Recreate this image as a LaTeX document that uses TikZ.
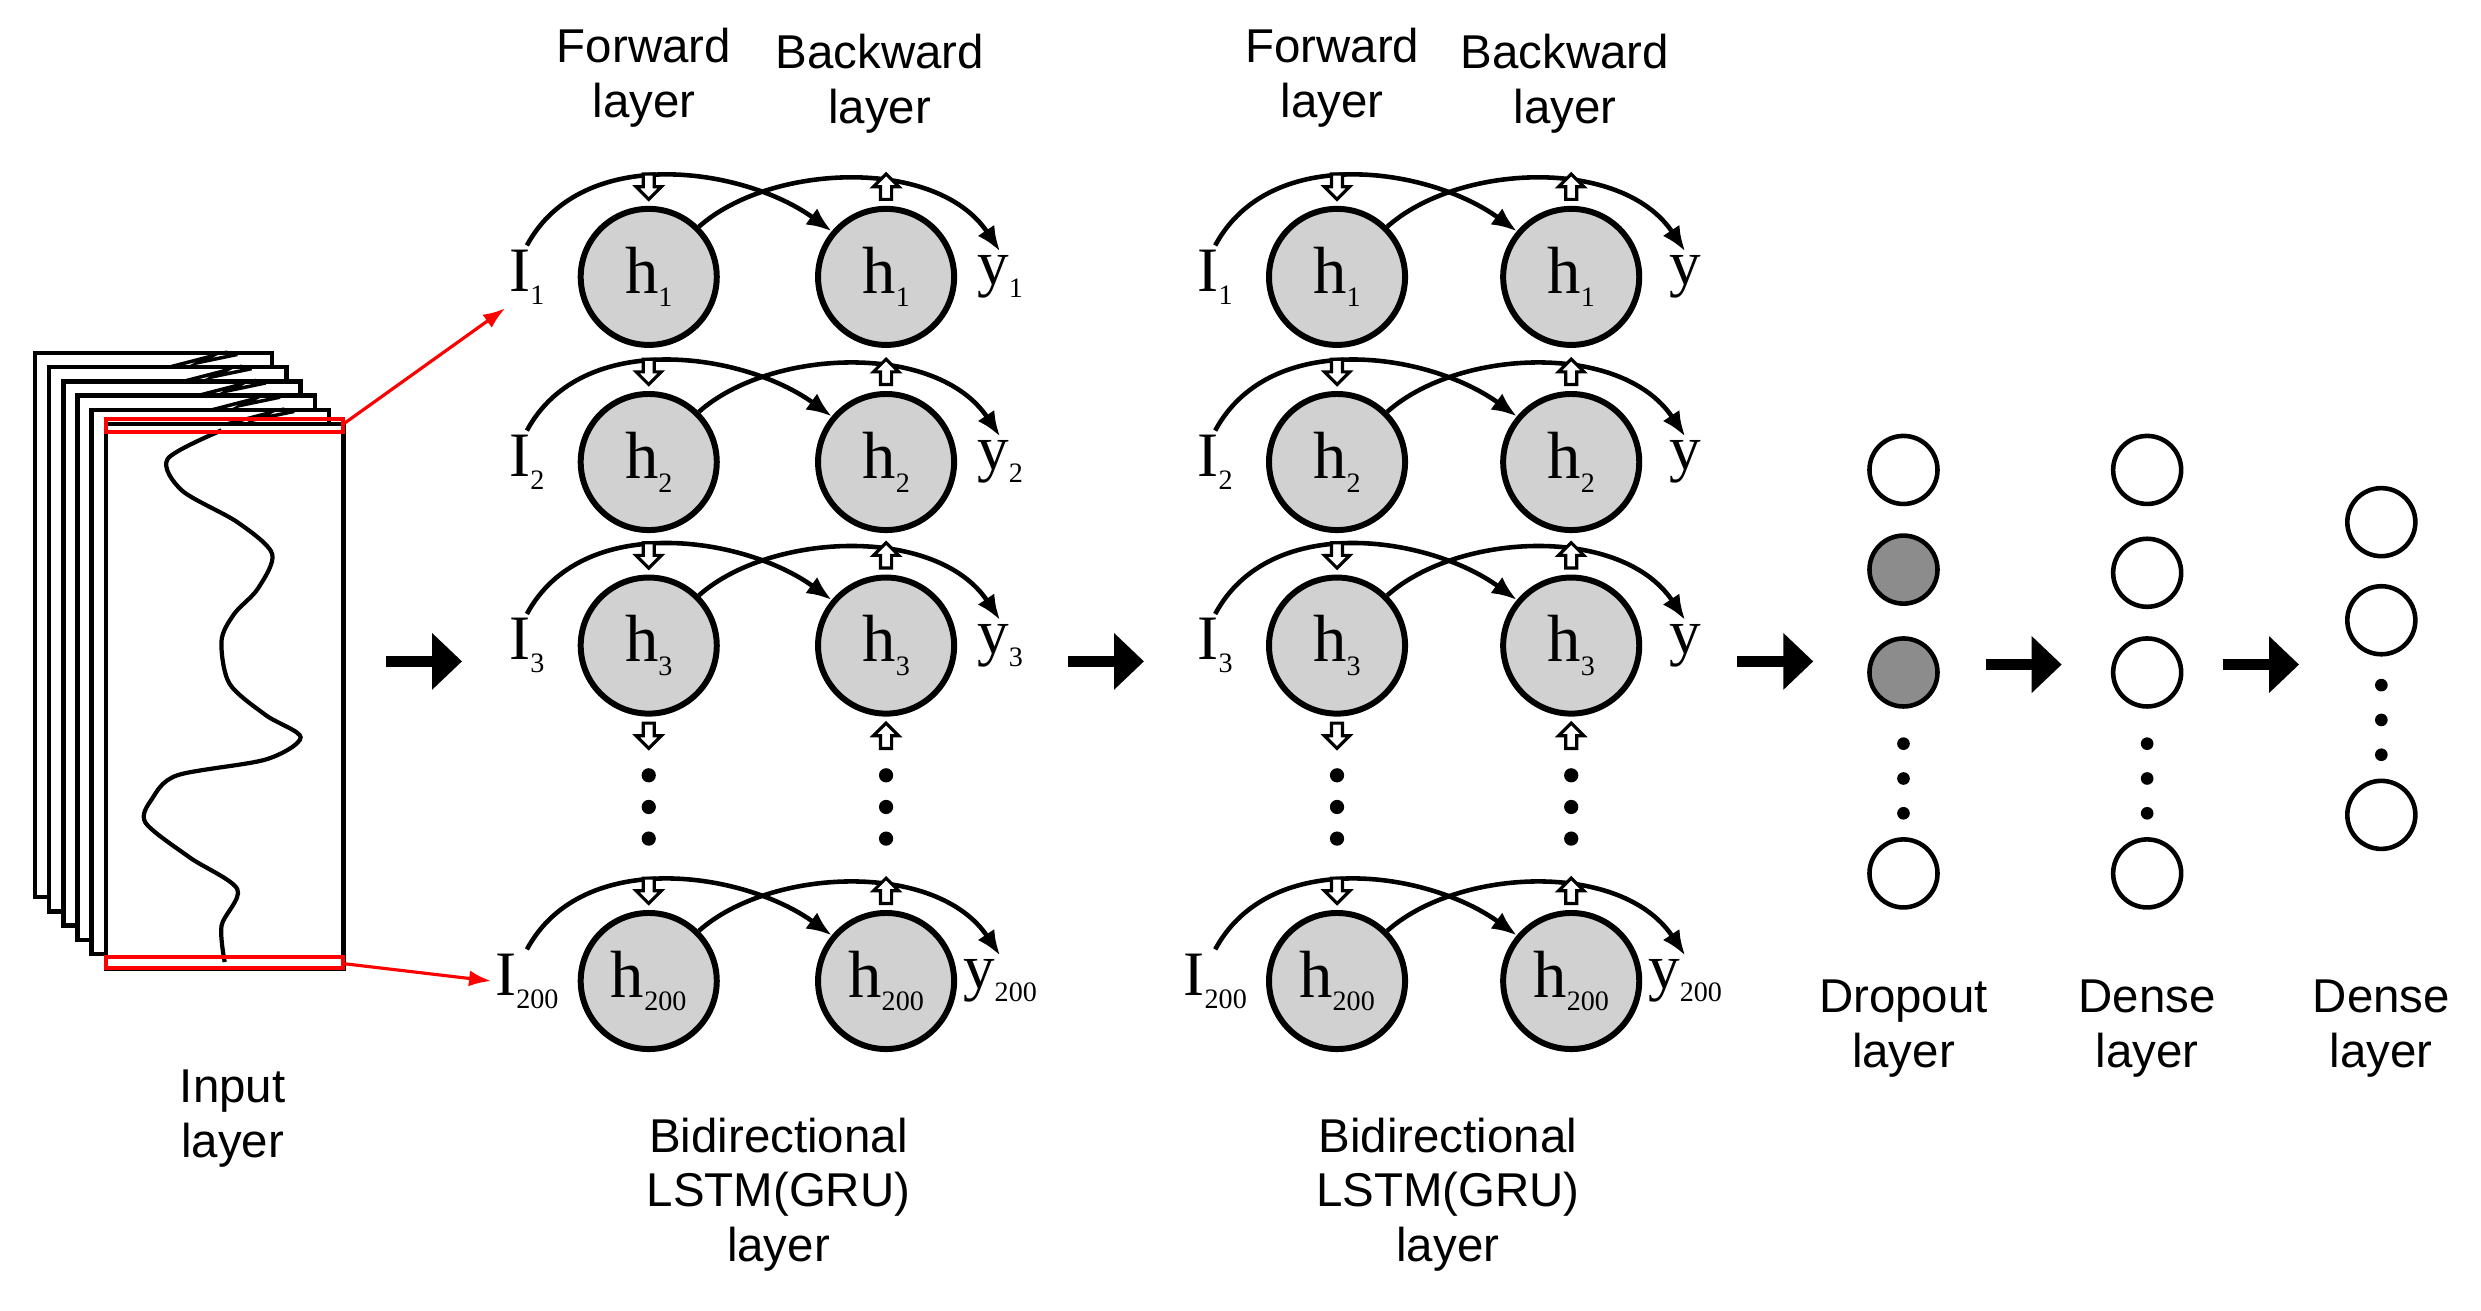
\documentclass[tikz,border=0pt]{standalone}
\usepackage{fontspec}
\setmainfont{Liberation Serif}
\newfontfamily\lab{Liberation Sans}
\usetikzlibrary{arrows.meta}
\newcommand\sbs[2]{#1\raisebox{-0.45ex}{\fontsize{8}{8}\selectfont #2}}
\begin{document}
\begin{tikzpicture}[x=0.01582cm,y=-0.01582cm,
  hc/.style={circle,draw,line width=1.7pt,fill=black!18,minimum size=86*0.01582cm,inner sep=0pt,font=\fontsize{19}{19}\selectfont},
  io/.style={inner sep=1pt,font=\fontsize{18}{18}\selectfont},
  lb/.style={align=center,font=\lab\fontsize{13.5}{15.5}\selectfont},
  arc/.style={line width=1.3pt,-{Latex[length=0.25cm,width=0.2cm]}},
  big/.style={line width=3.2pt,-{Triangle[length=0.3cm,width=0.55cm]}},
  sc/.style={circle,draw,line width=1.3pt,fill=white,minimum size=43*0.01582cm,inner sep=0pt},
  dn/.pic={\draw[line width=0.9pt,fill=white] (-3.5,-8)--(3.5,-8)--(3.5,0)--(8,0)--(0,8)--(-8,0)--(-3.5,0)--cycle;},
  up/.pic={\draw[line width=0.9pt,fill=white] (-3.5,8)--(3.5,8)--(3.5,0)--(8,0)--(0,-8)--(-8,0)--(-3.5,0)--cycle;}]
\useasboundingbox (0,0) rectangle (1568,828);
% input stack
\foreach \i in {5,4,3,2,1}{
  \draw[line width=1.3pt,fill=white] (67-9*\i,268-9*\i) rectangle ++(150,344);
  \draw[line width=1pt] (67-9*\i+85,268-9*\i+9)--(67-9*\i+112,268-9*\i+2)--(67-9*\i+104,268-9*\i+6)--(67-9*\i+128,268-9*\i+1);
}
\draw[line width=1.3pt,fill=white] (67,268) rectangle ++(150,344);
\draw[line width=1.2pt] plot[smooth] coordinates {(140,272) (106,290) (115,310) (150,330) (172,350) (163,372) (148,388) (140,405) (145,432) (168,452) (190,466) (168,480) (112,490) (96,505) (92,520) (120,542) (150,562) (140,585) (142,608)};
\draw[red,line width=1.2pt] (67,265) rectangle (217,273);
\draw[red,line width=1.2pt] (67,605) rectangle (217,612);
\coordinate (rt) at (217,268);
\coordinate (rb) at (217,609);
\node[lb] (inl) at (147,707) {Input\\layer};
% bi-lstm blocks
\foreach \b/\xf/\xb/\xi/\xy/\ys in {A/410/560/333/632/1,B/845/993/768/1065/0}{
  \foreach \r/\yr/\s in {1/175/1,2/292/2,3/408/3,4/620/200}{
    \node[hc] (\b f\r) at (\xf,\yr) {\sbs{h}{\s}};
    \node[hc] (\b b\r) at (\xb,\yr) {\sbs{h}{\s}};
    \node[io] (\b i\r) at (\xi,\yr) {\sbs{I}{\s}};
    \ifnum\ys=1 \node[io] (\b y\r) at (\xy,\yr) {\sbs{y}{\s}};
    \else \ifnum\r=4 \node[io] (\b y\r) at (\xy,\yr) {\sbs{y}{\s}};
    \else \node[io] (\b y\r) at (\xy,\yr) {y};\fi\fi
    \draw[arc] (\b i\r.north) .. controls +(35,-65) and +(-55,-40) .. (\b b\r.140);
    \draw[arc] (\b f\r.45) .. controls +(45,-40) and +(-40,-60) .. (\b y\r.north);
    \pic at (\xf,\yr-57) {dn};
    \pic at (\xb,\yr-57) {up};
  }
  \pic at (\xf,465) {dn};
  \pic at (\xb,465) {up};
  \foreach \d in {490,510,530}{
    \fill (\xf,\d) circle (4.5); \fill (\xb,\d) circle (4.5);}
  \node[lb] at (\xf-3,49) {Forward\\layer};
  \node[lb] at (\xb-4,53) {Backward\\layer};
}
\node[lb] (bl1) at (492,755) {Bidirectional\\LSTM(GRU)\\layer};
\node[lb] (bl2) at (915,755) {Bidirectional\\LSTM(GRU)\\layer};
\draw[red,line width=0.9pt,-{Latex[length=0.22cm,width=0.16cm]}] (rt) -- (Ai1.south west);
\draw[red,line width=0.9pt,-{Latex[length=0.22cm,width=0.16cm]}] (rb) -- (Ai4.west);
% dense part
\node[sc] (d1) at (1203,297) {};
\node[sc,fill=black!45] (d2) at (1203,360) {};
\node[sc,fill=black!45] (d3) at (1203,425) {};
\node[sc] (d4) at (1203,552) {};
\node[sc] (e1) at (1357,297) {};
\node[sc] (e2) at (1357,362) {};
\node[sc] (e3) at (1357,425) {};
\node[sc] (e4) at (1357,552) {};
\node[sc] (g1) at (1505,330) {};
\node[sc] (g2) at (1505,392) {};
\node[sc] (g3) at (1505,515) {};
\foreach \d in {470,492,514}{\fill (1203,\d) circle (4); \fill (1357,\d) circle (4);}
\foreach \d in {433,455,477}{\fill (1505,\d) circle (4);}
\node[lb] at (1203,650) {Dropout\\layer};
\node[lb] at (1357,650) {Dense\\layer};
\node[lb] at (1505,650) {Dense\\layer};
% big arrows
\coordinate (a1s) at (244,418); \coordinate (a1e) at (292,418);
\coordinate (a2s) at (675,418); \coordinate (a2e) at (723,418);
\coordinate (a3s) at (1098,418); \coordinate (a3e) at (1146,418);
\coordinate (a4s) at (1255,420); \coordinate (a4e) at (1303,420);
\coordinate (a5s) at (1405,420); \coordinate (a5e) at (1453,420);
\foreach \k in {1,...,5}{\draw[big] (a\k s) -- (a\k e);}
\end{tikzpicture}
\end{document}
